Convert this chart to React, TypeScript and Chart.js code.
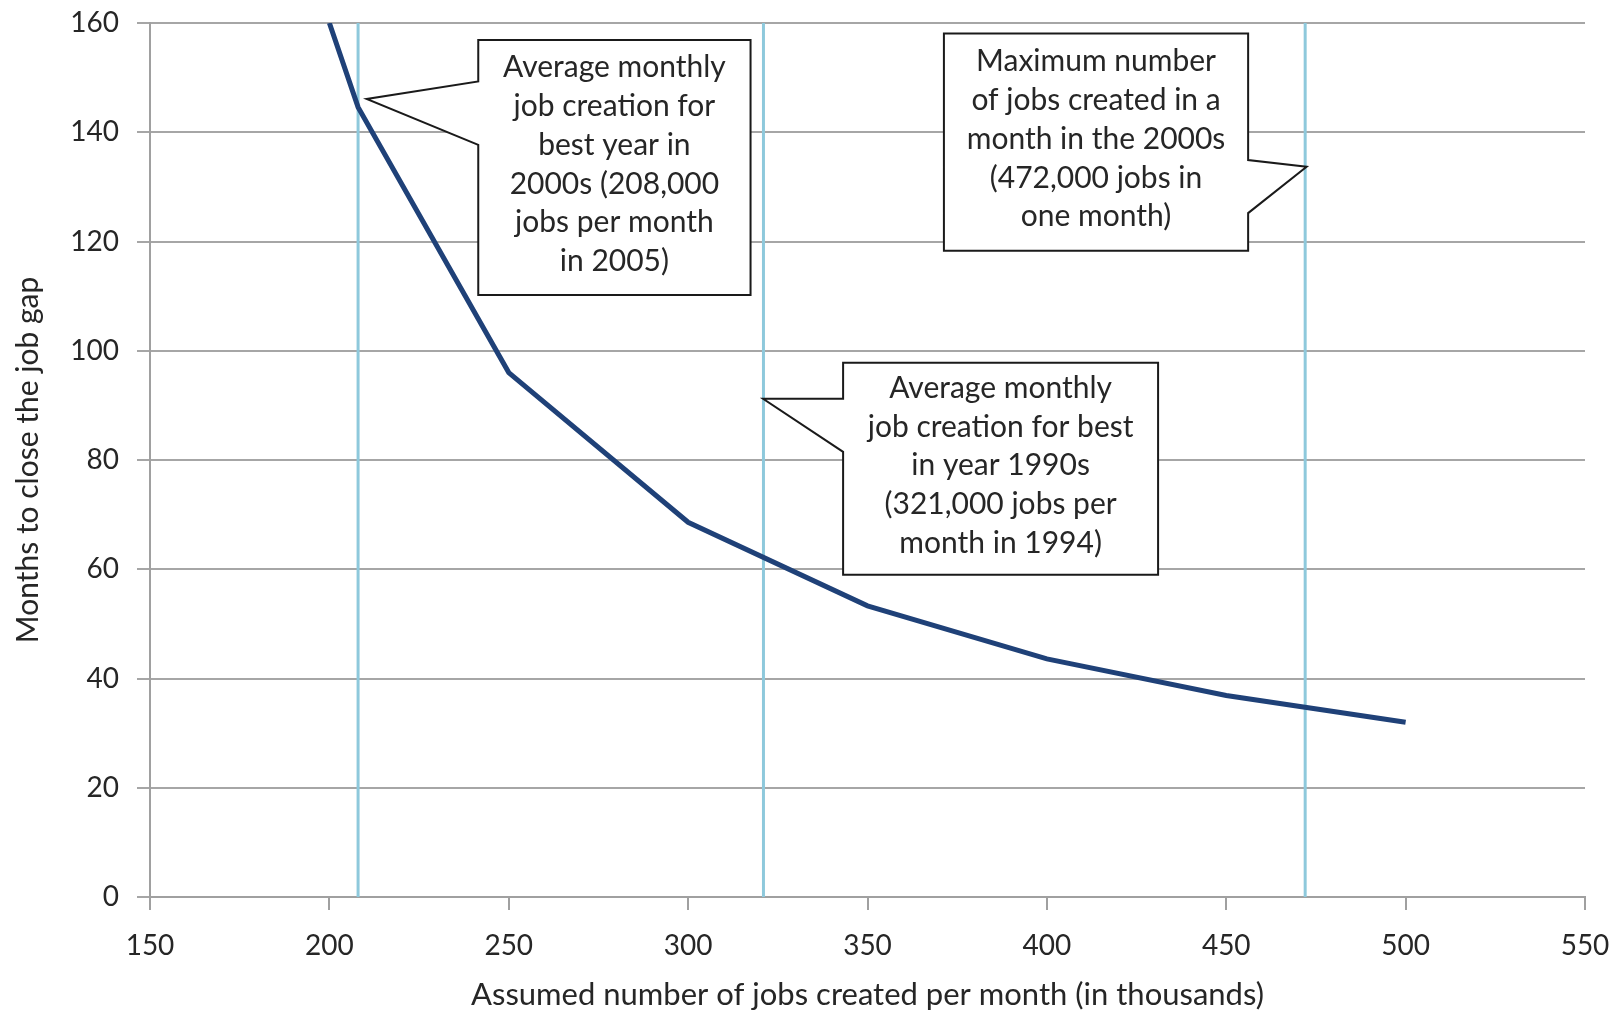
import React, { useEffect, useRef } from "react";
import { Chart, registerables } from "chart.js";

Chart.register(...registerables);

// ---- data ----
const jobsPerMonth = [200, 208, 250, 300, 350, 400, 450, 500];
const monthsToClose = [160, 144.6, 96, 68.6, 53.3, 43.6, 36.9, 32];
const markerJobs = [208, 321, 472];
const xRange = [150, 550];
const yRange = [0, 160];
const xStep = 50;
const yStep = 20;
const xTitle = "Assumed number of jobs created per month (in thousands)";
const yTitle = "Months to close the job gap";

const calloutTexts = [
  ["Average monthly", "job creation for", "best year in", "2000s (208,000", "jobs per month", "in 2005)"],
  ["Average monthly", "job creation for best", "in year 1990s", "(321,000 jobs per", "month in 1994)"],
  ["Maximum number", "of jobs created in a", "month in the 2000s", "(472,000 jobs in", "one month)"],
];

// callout geometry in data coordinates: box [x1, yTop, x2, yBottom], tip [x, y], pointer side, join y-values
const calloutGeometry = [
  { box: [241.5, 156.9, 317.4, 110.2], tip: [210.4, 146.1], side: "left", join: [149.3, 137.7] },
  { box: [343.2, 97.8, 431.0, 59.0], tip: [320.9, 91.2], side: "left", join: [91.2, 81.5] },
  { box: [371.3, 158.1, 456.1, 118.3], tip: [472.4, 133.7], side: "right", join: [134.9, 125.2] },
];

const FONT = "Lato, 'Open Sans', sans-serif";

const calloutPlugin = {
  id: "callouts",
  afterDatasetsDraw(chart: any) {
    const { ctx } = chart;
    const xs = chart.scales.x;
    const ys = chart.scales.y;
    calloutGeometry.forEach((g, i) => {
      const x1 = xs.getPixelForValue(g.box[0]);
      const x2 = xs.getPixelForValue(g.box[2]);
      const yT = ys.getPixelForValue(g.box[1]);
      const yB = ys.getPixelForValue(g.box[3]);
      const tx = xs.getPixelForValue(g.tip[0]);
      const ty = ys.getPixelForValue(g.tip[1]);
      const j1 = ys.getPixelForValue(g.join[0]);
      const j2 = ys.getPixelForValue(g.join[1]);
      ctx.save();
      ctx.beginPath();
      ctx.moveTo(x1, yT);
      ctx.lineTo(x2, yT);
      if (g.side === "right") {
        ctx.lineTo(x2, j1);
        ctx.lineTo(tx, ty);
        ctx.lineTo(x2, j2);
      }
      ctx.lineTo(x2, yB);
      ctx.lineTo(x1, yB);
      if (g.side === "left") {
        ctx.lineTo(x1, j2);
        ctx.lineTo(tx, ty);
        ctx.lineTo(x1, j1);
      }
      ctx.closePath();
      ctx.fillStyle = "#ffffff";
      ctx.fill();
      ctx.lineWidth = 2;
      ctx.strokeStyle = "#1a1a1a";
      ctx.lineJoin = "miter";
      ctx.stroke();

      const lines = calloutTexts[i];
      const lh = 38.8;
      const cx = (x1 + x2) / 2;
      const cy = (yT + yB) / 2 - 3;
      ctx.fillStyle = "#262626";
      ctx.font = `30px ${FONT}`;
      ctx.textAlign = "center";
      ctx.textBaseline = "middle";
      lines.forEach((t, k) => {
        ctx.fillText(t, cx, cy + (k - (lines.length - 1) / 2) * lh);
      });
      ctx.restore();
    });
  },
};

export default function App() {
  const ref = useRef<HTMLCanvasElement | null>(null);

  useEffect(() => {
    if (!ref.current) return;
    const datasets: any[] = [
      {
        label: "Months",
        data: jobsPerMonth.map((x, i) => ({ x, y: monthsToClose[i] })),
        borderColor: "#1f4178",
        borderWidth: 5,
        pointRadius: 0,
        tension: 0,
      },
      ...markerJobs.map((x) => ({
        label: `m${x}`,
        data: [
          { x, y: yRange[0] },
          { x, y: yRange[1] },
        ],
        borderColor: "#8ec9dc",
        borderWidth: 3,
        pointRadius: 0,
      })),
    ];
    const chart = new Chart(ref.current, {
      type: "line",
      data: { datasets },
      options: {
        animation: false,
        responsive: true,
        maintainAspectRatio: false,
        devicePixelRatio: 1,
        layout: { padding: { top: 23, right: 38, left: 0, bottom: 0 } },
        plugins: {
          legend: { display: false },
          tooltip: { enabled: false },
        },
        scales: {
          x: {
            type: "linear",
            min: xRange[0],
            max: xRange[1],
            afterFit: (s: any) => {
              s.height = 113;
              s.paddingLeft = 0;
              s.paddingRight = 0;
            },
            ticks: {
              stepSize: xStep,
              color: "#262626",
              font: { family: FONT, size: 28 },
              padding: 19,
            },
            grid: {
              drawOnChartArea: false,
              drawTicks: true,
              tickLength: 13,
              color: "#a0a0a0",
              lineWidth: 2,
            },
            border: { color: "#a0a0a0", width: 2 },
            title: {
              display: true,
              text: xTitle,
              color: "#262626",
              font: { family: FONT, size: 31, lineHeight: 1.0 },
              padding: { top: 0, bottom: 0 },
            },
          },
          y: {
            type: "linear",
            min: yRange[0],
            max: yRange[1],
            afterFit: (s: any) => {
              s.width = 150;
              s.paddingTop = 0;
              s.paddingBottom = 0;
            },
            ticks: {
              stepSize: yStep,
              color: "#262626",
              font: { family: FONT, size: 28 },
              padding: 18,
            },
            grid: {
              drawTicks: true,
              tickLength: 13,
              color: "#a6a6a6",
              lineWidth: 2,
            },
            border: { color: "#a0a0a0", width: 2 },
            title: {
              display: true,
              text: yTitle,
              color: "#262626",
              font: { family: FONT, size: 30 },
              padding: { top: 10, bottom: 0 },
            },
          },
        },
      },
      plugins: [calloutPlugin],
    });
    return () => chart.destroy();
  }, []);

  return (
    <div
      style={{
        position: "fixed",
        left: 0,
        top: 0,
        width: 1623,
        height: 1010,
        background: "#ffffff",
      }}
    >
      <canvas ref={ref} />
    </div>
  );
}
